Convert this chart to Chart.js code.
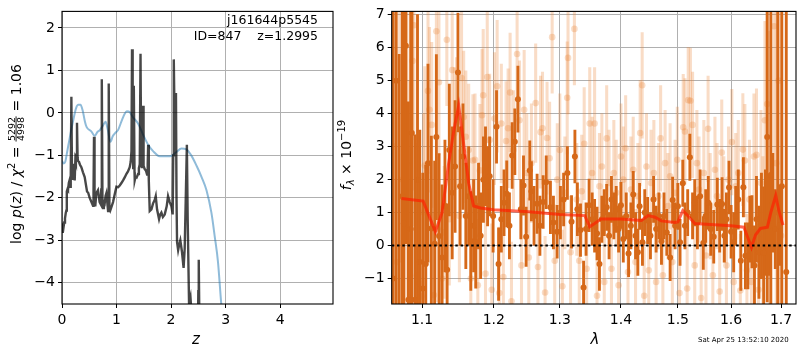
<!DOCTYPE html>
<html><head><meta charset="utf-8">
<script src="https://cdn.jsdelivr.net/npm/chart.js"></script>
<style>
html,body{margin:0;padding:0;background:#fff;}
#wrap{position:relative;width:800px;height:350px;overflow:hidden;background:#fff;}
canvas{position:absolute;top:0;}
#c1{left:0;} #c2{left:335px;}
</style></head><body>
<div id="wrap"><canvas id="c1" width="340" height="350"></canvas><canvas id="c2" width="465" height="350"></canvas></div>
<script>
// ---------------- left panel: log p(z) ----------------
const zTicks = [0, 1, 2, 3, 4];
const logpTicks = [-4, -3, -2, -1, 0, 1, 2];
const pzZ = [0.000,0.012,0.025,0.040,0.055,0.070,0.080,0.088,0.100,0.110,0.125,0.140,0.150,0.160,0.172,0.184,0.195,0.205,0.215,0.225,
  0.233,0.245,0.255,0.264,0.275,0.286,0.294,0.310,0.330,0.355,0.385,0.416,0.440,0.459,0.480,0.508,0.540,0.569,0.578,0.587,
  0.597,0.610,0.630,0.660,0.690,0.710,0.720,0.730,0.742,0.752,0.768,0.783,0.800,0.814,0.830,0.845,0.857,0.870,0.885,0.906,
  0.936,0.970,0.998,1.030,1.059,1.090,1.120,1.150,1.180,1.210,1.242,1.260,1.274,1.284,1.296,1.306,1.314,1.320,1.330,1.334,
  1.350,1.370,1.395,1.410,1.426,1.440,1.452,1.465,1.478,1.486,1.496,1.515,1.540,1.560,1.572,1.580,1.592,1.609,1.640,1.670,
  1.700,1.719,1.743,1.780,1.800,1.823,1.850,1.884,1.920,1.945,1.976,2.007,2.030,2.040,2.050,2.065,2.080,2.090,2.100,2.110,
  2.130,2.150,2.170,2.200,2.230,2.250,2.270,2.290,2.305,2.330,2.356,2.390,2.420,2.490,2.500,2.508,2.520,2.560];
const pzLog = [-2.80,-2.68,-2.72,-2.58,-2.48,-2.35,-2.30,-1.85,-1.80,-1.82,-1.65,-1.58,-1.74,-1.55,0.38,-1.55,-1.45,-1.51,-1.20,-1.40,
  -1.59,-1.10,-1.15,-0.98,-0.23,-1.05,-1.13,-1.15,-1.22,-1.28,-1.40,-1.51,-1.70,-1.85,-1.88,-2.00,-2.10,-2.19,-1.90,-0.56,
  -2.00,-2.20,-1.89,-1.82,-2.10,-2.15,-1.80,0.79,-2.00,-2.24,-2.10,-2.13,-1.95,-1.89,-2.10,-2.31,0.69,-2.25,-2.30,-2.22,
  -2.10,-1.90,-1.74,-1.75,-1.71,-1.65,-1.59,-1.52,-1.44,-1.38,-1.28,-1.15,-0.90,1.50,-0.50,-1.30,-0.80,0.64,-1.40,-1.59,
  -1.50,-1.52,-1.44,-1.30,-1.21,1.39,-1.20,-1.30,-0.90,0.17,-1.25,-1.32,-1.36,-1.45,-1.20,-0.75,-1.60,-2.31,-2.27,-2.13,
  -2.05,-1.96,-2.27,-2.50,-2.40,-2.35,-2.45,-2.39,-2.20,-1.96,-2.10,-2.20,-2.39,-1.00,1.26,-0.20,-1.00,0.47,-2.00,-3.04,
  -3.23,-3.10,-3.00,-3.27,-3.65,-3.20,-2.00,-0.75,-2.50,-4.49,-4.34,-5.00,-5.50,-5.50,-4.20,-3.46,-5.00,-6.50];
const priorZ = [0.00,0.03,0.06,0.09,0.14,0.20,0.26,0.30,0.34,0.38,0.42,0.45,0.54,0.60,0.65,0.69,0.75,0.80,0.84,0.89,
  0.93,0.97,1.03,1.09,1.15,1.19,1.24,1.30,1.40,1.49,1.58,1.67,1.79,1.98,2.10,2.19,2.28,2.37,2.47,2.56,
  2.65,2.74,2.80,2.86,2.92,3.00];
const priorLog = [-1.13,-1.19,-1.15,-0.95,-0.60,-0.21,0.12,0.19,0.19,0.05,-0.20,-0.33,-0.44,-0.54,-0.45,-0.41,-0.30,-0.21,-0.40,-0.68,
  -0.55,-0.48,-0.40,-0.20,-0.02,0.04,0.02,-0.10,-0.26,-0.52,-0.75,-0.90,-1.02,-1.02,-0.92,-0.84,-0.86,-1.00,-1.25,-1.51,
  -1.82,-2.35,-2.90,-3.50,-4.49,-5.60];

// ---------------- right panel: spectrum ----------------
const lamTicks = [1.1, 1.2, 1.3, 1.4, 1.5, 1.6, 1.7];
const fluxTicks = [-1, 0, 1, 2, 3, 4, 5, 6, 7];
const darkWave = [1.062,1.066,1.070,1.074,1.076,1.0787,1.082,1.085,1.0865,1.0908,
  1.094,1.097,1.101,1.105,1.108,1.1125,1.117,1.1193,1.123,1.127,
  1.131,1.134,1.137,1.141,1.145,1.149,1.152,1.156,1.160,1.164,
  1.167,1.171,1.174,1.178,1.181,1.185,1.188,1.191,1.194,1.199,
  1.204,1.207,1.211,1.215,1.219,1.223,1.227,1.231,1.2356,1.240,
  1.244,1.248,1.2535,1.256,1.260,1.2647,1.269,1.274,1.2787,1.2853,
  1.290,1.2958,1.301,1.306,1.312,1.3186,1.324,1.328,1.333,1.338,
  1.342,1.347,1.352,1.356,1.360,1.364,1.368,1.372,1.376,1.380,
  1.384,1.388,1.392,1.396,1.400,1.404,1.409,1.413,1.417,1.421,
  1.425,1.429,1.432,1.437,1.441,1.446,1.451,1.4565,1.461,1.466,
  1.4705,1.475,1.480,1.486,1.4905,1.495,1.500,1.504,1.509,1.513,
  1.518,1.522,1.527,1.531,1.536,1.541,1.547,1.5515,1.5564,1.561,
  1.5667,1.5735,1.578,1.5826,1.587,1.591,1.596,1.600,1.605,1.609,
  1.614,1.619,1.624,1.628,1.633,1.637,1.641,1.646,1.650,1.655,
  1.660,1.6645,1.668,1.6716,1.675,1.679,1.683,1.688,1.693,1.697,
  1.7015,1.7107];
const darkFlux = [-1.0,5.0,-2.2,1.5,0.67,6.06,-1.64,0.5,3.41,-1.64,
  2.0,-0.5,-1.3,-0.56,2.5,0.52,0.06,3.29,0.29,-0.36,
  1.2,-0.73,2.9,1.6,2.4,5.25,1.8,2.7,0.9,1.5,
  0.14,0.6,0.11,1.2,0.3,2.0,2.4,1.8,2.1,0.9,
  3.6,-0.56,0.8,1.3,1.57,0.6,2.73,3.15,4.44,1.1,
  1.82,0.27,2.28,1.65,0.9,1.27,0.6,1.32,1.92,1.16,
  0.7,0.42,1.0,1.4,2.2,0.72,2.7,1.1,0.47,-1.27,
  0.5,1.22,0.8,0.6,0.37,-0.56,0.8,1.0,1.16,0.3,
  1.4,0.9,1.1,0.5,1.22,0.2,0.9,-0.24,0.6,1.55,
  0.3,-0.2,1.19,0.1,1.0,0.76,0.3,1.4,0.5,0.9,
  0.13,0.9,0.4,-0.36,1.38,0.6,1.19,0.1,1.89,0.6,
  1.0,2.68,0.9,1.3,0.7,1.5,0.08,0.9,1.3,0.5,
  0.27,1.25,0.6,1.26,0.3,0.8,1.76,0.42,0.1,0.9,
  1.4,-0.46,1.77,-0.31,-0.31,0.5,0.42,-0.6,0.8,-0.2,
  0.6,-0.22,0.7,3.29,0.6,2.14,1.3,0.5,1.0,0.6,
  1.8,-0.8];
const darkErr = [9,9,8,8,7,6,6,7,6,5,
  5,4,3.5,3,3,2.8,2.5,2.5,2.5,2.2,
  2,2,2,2,2,1.8,1.8,1.6,1.6,1.5,
  1.5,1.4,1.4,1.3,1.3,1.3,1.2,1.2,1.2,1.1,
  1.1,1.1,1.0,1.0,1.0,1.0,1.0,1.0,1.0,0.9,
  0.9,0.9,0.9,0.9,0.9,0.9,0.9,0.8,0.8,0.8,
  0.8,0.8,0.8,0.8,0.8,0.8,0.8,0.8,0.8,0.8,
  0.8,0.8,0.8,0.8,0.8,0.8,0.7,0.7,0.7,0.7,
  0.7,0.7,0.7,0.7,0.7,0.7,0.7,0.7,0.7,0.7,
  0.7,0.7,0.7,0.7,0.7,0.7,0.7,0.7,0.7,0.7,
  0.7,0.7,0.7,0.7,0.7,0.7,0.7,0.7,0.7,0.7,
  0.7,0.7,0.7,0.7,0.8,0.8,0.8,0.8,0.8,0.8,
  0.8,0.8,0.8,0.8,0.8,0.8,0.8,0.8,0.9,0.9,
  0.9,0.9,0.9,1.0,1.0,1.0,1.1,1.2,1.3,1.4,
  1.6,2,1.6,5,1.5,8,1.5,1.2,9,1.2,
  9,10];
const lightWave = [1.063,1.067,1.071,1.075,1.080,1.084,1.0873,1.0893,1.093,1.096,
  1.099,1.102,1.1036,1.108,1.110,1.113,1.116,1.1193,1.121,1.1228,
  1.127,1.130,1.1336,1.137,1.141,1.144,1.147,1.151,1.154,1.157,
  1.160,1.164,1.167,1.170,1.173,1.177,1.180,1.183,1.1847,1.188,
  1.1905,1.194,1.197,1.201,1.2049,1.208,1.211,1.214,1.218,1.221,
  1.224,1.226,1.229,1.2344,1.238,1.241,1.245,1.249,1.252,1.256,
  1.2625,1.266,1.270,1.273,1.277,1.280,1.284,1.288,1.292,1.296,
  1.300,1.304,1.308,1.3117,1.313,1.317,1.3232,1.327,1.331,1.335,
  1.339,1.343,1.348,1.352,1.356,1.360,1.364,1.368,1.372,1.376,
  1.380,1.384,1.388,1.392,1.396,1.400,1.404,1.408,1.412,1.417,
  1.421,1.425,1.429,1.433,1.4365,1.440,1.444,1.448,1.452,1.457,
  1.461,1.465,1.469,1.473,1.477,1.482,1.486,1.490,1.495,1.499,
  1.503,1.5098,1.513,1.517,1.519,1.523,1.527,1.531,1.535,1.539,
  1.543,1.548,1.552,1.556,1.560,1.565,1.569,1.573,1.578,1.582,
  1.586,1.591,1.595,1.6015,1.605,1.609,1.614,1.618,1.623,1.627,
  1.631,1.636,1.640,1.645,1.650,1.654,1.659,1.663,1.667,1.6716,
  1.676,1.6855,1.690,1.695,1.700];
const lightFlux = [3.0,-0.5,7.5,2.0,2.5,-1.0,5.6,6.68,-0.9,-1.13,
  -1.54,1.0,2.43,4.69,4.12,3.66,-1.5,6.5,0.5,4.95,
  -1.0,0.4,6.24,0.8,5.32,3.4,3.7,0.9,5.08,3.9,
  3.3,2.9,-1.0,2.58,2.6,-1.2,2.28,3.95,4.56,-0.85,
  5.11,3.2,-1.34,3.85,4.83,-1.44,3.7,-0.95,3.17,3.56,
  4.64,-1.69,2.9,5.81,3.8,-0.6,4.12,2.2,-0.36,2.5,
  4.32,-0.65,3.44,3.56,-1.42,3.26,2.65,6.32,-0.46,2.0,
  2.9,-1.23,1.6,4.48,5.69,-0.2,6.57,1.4,-0.46,1.65,
  3.09,-0.7,3.7,2.2,3.7,-1.52,1.8,2.4,-1.1,3.25,
  1.9,-0.7,2.2,1.6,-1.2,2.7,2.0,2.95,-0.8,1.7,
  2.3,-0.5,1.5,3.41,4.86,-1.52,2.4,-0.75,1.9,2.2,
  -1.1,1.5,3.25,-0.9,2.5,1.2,2.1,-0.5,1.6,2.6,
  -1.44,3.59,3.46,-1.3,4.41,4.39,3.66,-0.6,2.5,1.7,
  -1.59,2.2,-0.3,3.54,1.2,-0.9,2.3,1.5,-1.39,2.82,
  1.1,-0.6,2.0,3.14,-1.1,1.8,2.2,-1.36,2.91,2.58,
  -0.75,1.4,-1.1,2.7,2.75,-1.34,1.9,0.2,3.8,4.29,
  1.5,6.65,2.5,5.0,0.3];
const lightErr = [8,8,8,7,6,6,5,5,4,4,
  3.5,3,3,2.5,2.5,2.5,2.5,2.5,2.2,2.2,
  2.2,2,2,2,2,2,2,2,2,2,
  2,2,2,2,2,2,2,2,2,2,
  2,2,2,2,2,2,1.8,1.8,1.8,1.8,
  1.8,1.8,1.8,1.8,1.8,1.8,1.8,1.8,1.8,1.8,
  1.8,1.7,1.7,1.7,1.7,1.7,1.7,1.7,1.7,1.7,
  1.7,1.7,1.7,1.7,1.7,1.7,1.7,1.7,1.7,1.7,
  1.7,1.7,1.7,1.7,1.7,1.7,1.6,1.6,1.6,1.6,
  1.6,1.6,1.6,1.6,1.6,1.6,1.6,1.6,1.6,1.6,
  1.6,1.6,1.6,1.6,1.6,1.6,1.6,1.6,1.6,1.6,
  1.6,1.6,1.6,1.6,1.6,1.6,1.6,1.6,1.6,1.6,
  1.6,1.6,1.6,1.6,1.6,1.6,1.6,1.6,1.6,1.6,
  1.6,1.6,1.6,1.6,1.6,1.6,1.6,1.6,1.6,1.6,
  1.6,1.6,1.6,1.6,1.6,1.6,1.6,1.7,1.7,1.7,
  1.7,1.8,1.8,1.9,2.0,2.0,2.2,2.5,3,3.5,
  5,6,7,8,9];
const modelWave = [1.073,1.1015,1.111,1.118,1.127,1.136,1.143,1.150,1.157,1.164,1.171,1.181,1.200,1.252,1.300,1.340,1.348,1.356,1.367,1.400,
  1.435,1.447,1.459,1.470,1.494,1.500,1.509,1.518,1.531,1.561,1.600,1.625,1.633,1.640,1.648,1.658,1.672,1.679,1.689,1.695,1.704];
const modelFlux = [1.43,1.35,0.81,0.42,1.00,2.48,3.46,4.25,3.07,1.89,1.20,1.14,1.09,1.03,0.94,0.91,0.57,0.67,0.81,0.81,
  0.76,0.91,0.86,0.75,0.70,0.72,1.06,0.91,0.67,0.64,0.60,0.56,0.23,-0.05,0.32,0.52,0.56,1.01,1.52,1.08,0.62];
const zeroLine = [1.0603, 1.731];

// ---------------- helpers ----------------
Chart.defaults.font.family = '"DejaVu Sans", sans-serif';
Chart.defaults.color = '#000';
const minus = v => (v < 0 ? '\u2212' + Math.abs(v) : String(v));
const setTicks = arr => (s => { s.ticks = arr.map(v => ({ value: v })); });
const gridOpts = { color: '#b0b0b0', lineWidth: 1, tickColor: '#000', tickLength: 4, tickWidth: 1 };
const tickFont = { family: '"DejaVu Sans"', size: 14 };

const framePlugin = { id: 'frame', afterDraw(chart) {
  const a = chart.chartArea, c = chart.ctx;
  c.save(); c.strokeStyle = '#000'; c.lineWidth = 1.1;
  c.strokeRect(a.left, a.top, a.right - a.left, a.bottom - a.top); c.restore();
}};

function drawRich(ctx, parts, cy, baseY) {
  let W = 0;
  parts.forEach(p => {
    ctx.font = p.font;
    p.w = p.frac ? Math.max(ctx.measureText(p.frac[0]).width, ctx.measureText(p.frac[1]).width) + 2 : ctx.measureText(p.t).width;
    W += p.w;
  });
  ctx.save(); ctx.translate(0, cy); ctx.rotate(-Math.PI / 2);
  ctx.fillStyle = '#000'; ctx.textBaseline = 'alphabetic';
  let x = -W / 2;
  parts.forEach(p => {
    ctx.font = p.font;
    if (p.frac) {
      ctx.textAlign = 'center';
      ctx.fillText(p.frac[0], x + p.w / 2, baseY - 6.5);
      ctx.fillText(p.frac[1], x + p.w / 2, baseY + 2.5);
      ctx.fillRect(x + 0.5, baseY - 5.4, p.w - 1, 0.9);
    } else {
      ctx.textAlign = 'left';
      ctx.fillText(p.t, x, baseY + (p.dy || 0));
    }
    x += p.w;
  });
  ctx.restore();
}

const leftText = { id: 'leftText', afterDraw(chart) {
  const c = chart.ctx; c.save(); c.fillStyle = '#000';
  c.font = '12.5px "DejaVu Sans"'; c.textAlign = 'right'; c.textBaseline = 'alphabetic';
  c.fillText('j161644p5545', 318, 24);
  c.fillText('ID=847    z=1.2995', 318, 40);
  c.font = 'italic 15px "DejaVu Sans"'; c.textAlign = 'center';
  c.fillText('z', 196, 344);
  c.restore();
  const R = '14px "DejaVu Sans"', I = 'italic 14px "DejaVu Sans"';
  drawRich(c, [
    { t: 'log ', font: R }, { t: 'p', font: I }, { t: '(', font: R }, { t: 'z', font: I }, { t: ') / ', font: R },
    { t: '\u03C7', font: I }, { t: '2', font: '10px "DejaVu Sans"', dy: -6 }, { t: ' = ', font: R },
    { frac: ['5292', '4998'], font: '9.5px "DejaVu Sans"' }, { t: ' = 1.06', font: R }
  ], 154, 21);
}};

const rightText = { id: 'rightText', afterDraw(chart) {
  const c = chart.ctx; c.save(); c.fillStyle = '#000';
  c.font = 'italic 15px "DejaVu Sans"'; c.textAlign = 'center'; c.textBaseline = 'alphabetic';
  c.fillText('\u03BB', 260, 344);
  c.font = '7px "DejaVu Sans"'; c.textAlign = 'left';
  c.fillText('Sat Apr 25 13:52:10 2020', 363, 342);
  c.restore();
  drawRich(c, [
    { t: 'f', font: 'italic 14px "DejaVu Sans"' }, { t: '\u03BB', font: 'italic 10px "DejaVu Sans"', dy: 3 },
    { t: ' \u00D7 10', font: '14px "DejaVu Sans"' }, { t: '\u221219', font: '10px "DejaVu Sans"', dy: -6 }
  ], 155, 15.5);
}};

// ---------------- left chart ----------------
new Chart(document.getElementById('c1'), {
  type: 'line',
  data: { datasets: [
    { data: pzZ.map((z, i) => ({ x: z, y: pzLog[i] })), borderColor: 'rgba(0,0,0,0.72)', borderWidth: 2.4,
      pointRadius: 0, tension: 0, clip: 0, order: 0 },
    { data: priorZ.map((z, i) => ({ x: z, y: priorLog[i] })), borderColor: 'rgba(31,119,180,0.5)', borderWidth: 2,
      pointRadius: 0, cubicInterpolationMode: 'monotone', clip: 0, order: 1 }
  ]},
  options: {
    responsive: false, animation: false, events: [],
    layout: { padding: { top: 3, right: 7, left: 0, bottom: 0 } },
    plugins: { legend: { display: false }, tooltip: { enabled: false } },
    scales: {
      x: { type: 'linear', min: 0, max: 4.97, afterBuildTicks: setTicks(zTicks), afterFit: s => { s.height = 46; },
        grid: gridOpts, border: { display: false },
        ticks: { font: tickFont, color: '#000', padding: 4, maxRotation: 0, autoSkip: false, callback: v => minus(v) } },
      y: { type: 'linear', min: -4.5, max: 2.39, afterBuildTicks: setTicks(logpTicks), afterFit: s => { s.width = 62; },
        grid: gridOpts, border: { display: false },
        ticks: { font: tickFont, color: '#000', padding: 3, autoSkip: false, callback: v => minus(v) } }
    }
  },
  plugins: [framePlugin, leftText]
});

// ---------------- right chart ----------------
const darkCol = 'rgb(214,104,24)';
const lightCol = 'rgba(232,128,50,0.28)';
new Chart(document.getElementById('c2'), {
  type: 'scatter',
  data: { datasets: [
    { type: 'line', data: zeroLine.map(x => ({ x: x, y: 0 })), borderColor: '#000', borderWidth: 2,
      borderDash: [2.5, 2.8], pointRadius: 0, clip: 0, order: 0 },
    { type: 'line', data: modelWave.map((x, i) => ({ x: x, y: modelFlux[i] })), borderColor: 'rgba(255,30,0,0.68)',
      borderWidth: 3, pointRadius: 0, tension: 0, clip: 0, order: 1 },
    { type: 'scatter', data: darkWave.map((x, i) => ({ x: x, y: darkFlux[i] })), backgroundColor: darkCol,
      borderWidth: 0, pointRadius: 3, clip: 0, order: 2 },
    { type: 'bar', data: darkWave.map((x, i) => ({ x: x, y: [darkFlux[i] - darkErr[i], darkFlux[i] + darkErr[i]] })),
      backgroundColor: darkCol, borderWidth: 0, barThickness: 2.2, stack: 'e', clip: 0, order: 3 },
    { type: 'scatter', data: lightWave.map((x, i) => ({ x: x, y: lightFlux[i] })), backgroundColor: lightCol,
      borderWidth: 0, pointRadius: 3.3, clip: 0, order: 4 },
    { type: 'bar', data: lightWave.map((x, i) => ({ x: x, y: [lightFlux[i] - lightErr[i], lightFlux[i] + lightErr[i]] })),
      backgroundColor: lightCol, borderWidth: 0, barThickness: 2.4, stack: 'e', clip: 0, order: 5 }
  ]},
  options: {
    responsive: false, animation: false, events: [],
    layout: { padding: { top: 3, right: 1, left: 0, bottom: 0 } },
    plugins: { legend: { display: false }, tooltip: { enabled: false } },
    scales: {
      x: { type: 'logarithmic', min: 1.0603, max: 1.731, offset: false,
        afterBuildTicks: setTicks(lamTicks), afterFit: s => { s.height = 46; },
        grid: Object.assign({}, gridOpts, { offset: false }), border: { display: false },
        ticks: { font: tickFont, color: '#000', padding: 4, maxRotation: 0, autoSkip: false, callback: v => Number(v).toFixed(1) } },
      y: { type: 'linear', min: -1.77, max: 7.1, stacked: false, afterBuildTicks: setTicks(fluxTicks), afterFit: s => { s.width = 56.7; },
        grid: gridOpts, border: { display: false },
        ticks: { font: tickFont, color: '#000', padding: 3, autoSkip: false, callback: v => minus(v) } }
    }
  },
  plugins: [framePlugin, rightText]
});
</script>
</body></html>
